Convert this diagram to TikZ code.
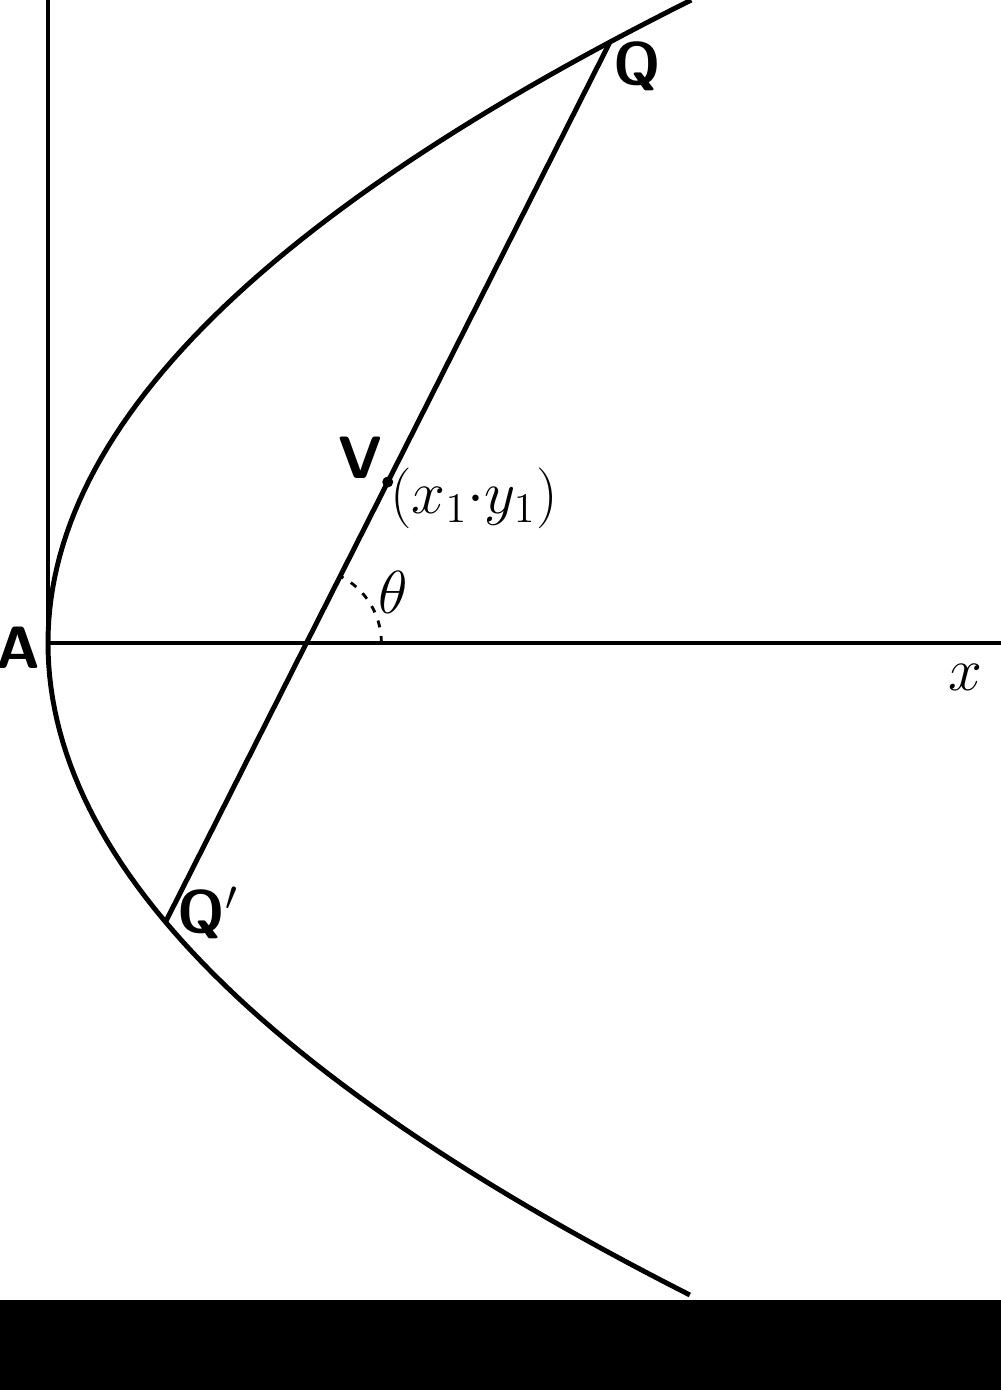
\documentclass[tikz,border=0pt]{standalone}
\usepackage{tikz}
\usetikzlibrary{calc}

\begin{document}
\begin{tikzpicture}[line width=1.4pt,
    ptlabel/.style={font=\fontsize{17}{20}\selectfont\sffamily\bfseries, inner sep=0pt},
    mathlabel/.style={font=\fontsize{17}{20}\selectfont, inner sep=0pt}]
  \useasboundingbox (-0.48,-7.47) rectangle (9.53,6.43);
  \fill[black] (-0.48,-6.57) rectangle (9.53,-7.47);

  \coordinate (A) at (0,0);
  \coordinate (ytop) at (0,6.43);
  \coordinate (xend) at (9.53,0);
  \draw (A) -- (ytop);
  \draw (A) -- (xend);

  \draw[domain=0:6.43, samples=60, variable=\t] plot ({0.1556*\t*\t},\t);
  \draw[domain=0:6.52, samples=60, variable=\t] plot ({0.151*\t*\t},-\t);

  \coordinate (Q) at ({0.1556*6.01*6.01},6.01);
  \coordinate (Qp) at ({0.151*2.79*2.79},-2.79);
  \coordinate (V) at ($(Q)!0.5!(Qp)$);
  \coordinate (O) at ($(Qp)!0.317!(Q)$);
  \draw (Qp) -- (Q);
  \fill (V) circle (0.055);

  \draw[line width=0.8pt, dash pattern=on 2pt off 2.5pt] ([shift={(0:0.75)}]O) arc (0:63:0.75);

  \node[ptlabel] (lA) at (-0.30,-0.05) {A};
  \node[ptlabel] (lV) at (3.12,1.85) {V};
  \node[ptlabel] (lQ) at (5.89,5.77) {Q};
  \node[ptlabel] (lQp) at (1.60,-2.70) {Q$'$};
  \node[mathlabel] (lxy) at (4.26,1.45) {$(x_1{\cdot}y_1)$};
  \node[mathlabel] (ltheta) at (3.45,0.51) {$\theta$};
  \node[mathlabel] (lx) at (9.17,-0.34) {$x$};
\end{tikzpicture}
\end{document}
